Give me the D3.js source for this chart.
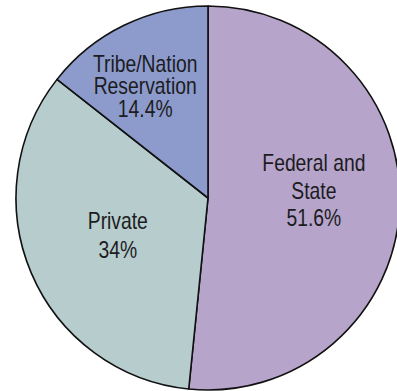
<!DOCTYPE html>
<html>
<head>
<meta charset="utf-8">
<script src="https://cdn.jsdelivr.net/npm/d3@7"></script>
<style>
  html, body { margin: 0; padding: 0; background: #ffffff; }
  svg { display: block; }
</style>
</head>
<body>
<svg id="chart" width="397" height="391"></svg>
<script>
// Land ownership shares (percent), drawn clockwise from 12 o'clock
const categories = ["Federal and State", "Private", "Tribe/Nation Reservation"];
const shares = [51.6, 34, 14.4];
const labelLines = [
  ["Federal and", "State", "51.6%"],
  ["Private", "34%"],
  ["Tribe/Nation", "Reservation", "14.4%"]
];
const sliceColors = ["#b6a4ca", "#b7cccd", "#8c9bcb"];

// Label placement: radius of the anchor arc, nudges and line spacing
const labelLayout = [
  { r: 106, dx: 0, dy: -13, lh: 27.5 },
  { r: 98, dx: 0, dy: -1.5, lh: 29 },
  { r: 130, dx: -6, dy: 5, lh: 22.5 }
];

const W = 397, H = 391;
const cx = 208, cy = 198, R = 192;
const fontSize = 23, squeeze = 0.84;

const data = categories.map((c, i) => ({ name: c, value: shares[i], idx: i }));

const pie = d3.pie()
  .sort(null)
  .value(d => d.value)
  .startAngle(0)
  .endAngle(2 * Math.PI);

const arcs = pie(data);
const arc = d3.arc().innerRadius(0).outerRadius(R);

const svg = d3.select("#chart");
const g = svg.append("g").attr("transform", `translate(${cx},${cy})`);

g.selectAll("path.slice")
  .data(arcs)
  .join("path")
  .attr("class", "slice")
  .attr("d", arc)
  .attr("fill", d => sliceColors[d.data.idx])
  .attr("stroke", "#111")
  .attr("stroke-width", 1.6)
  .attr("stroke-linejoin", "round");

const labels = g.selectAll("g.label")
  .data(arcs)
  .join("g")
  .attr("class", "label")
  .attr("transform", d => {
    const L = labelLayout[d.data.idx];
    const c = d3.arc().innerRadius(L.r).outerRadius(L.r).centroid(d);
    return `translate(${c[0] + L.dx},${c[1] + L.dy}) scale(${squeeze},1)`;
  });

labels.each(function(d) {
  const L = labelLayout[d.data.idx];
  const lines = labelLines[d.data.idx];
  const n = lines.length;
  d3.select(this).selectAll("text")
    .data(lines)
    .join("text")
    .attr("x", 0)
    .attr("y", (t, i) => (i - (n - 1) / 2) * L.lh + fontSize * 0.358)
    .attr("text-anchor", "middle")
    .attr("font-family", "'Liberation Sans', Arial, sans-serif")
    .attr("font-size", fontSize)
    .attr("fill", "#1c1c22")
    .text(t => t);
});
</script>
</body>
</html>
